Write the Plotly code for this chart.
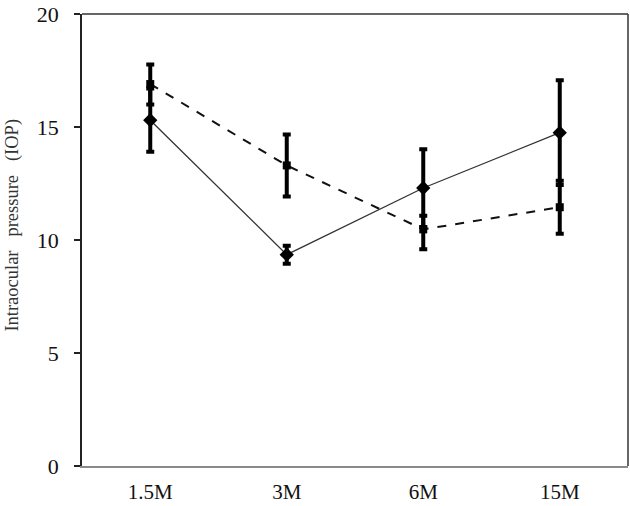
import plotly.graph_objects as go

categories = ["1.5M", "3M", "6M", "15M"]
solid_values = [15.3, 9.35, 12.3, 14.75]
solid_err_plus = [1.4, 0.4, 1.72, 2.32]
solid_err_minus = [1.4, 0.4, 1.72, 2.32]
dashed_values = [16.9, 13.3, 10.47, 11.45]
dashed_err_plus = [0.87, 1.37, 0.6, 1.17]
dashed_err_minus = [0.9, 1.37, 0.88, 1.17]
y_ticks = [0, 5, 10, 15, 20]
y_tick_labels = ["0", "5", "10", "15", "20"]

fig = go.Figure()

fig.add_trace(go.Scatter(
    x=categories, y=dashed_values, mode="lines+markers",
    line=dict(color="#111111", width=2, dash="dash"),
    marker=dict(symbol="square", size=8, color="black"),
    error_y=dict(type="data", symmetric=False, array=dashed_err_plus,
                 arrayminus=dashed_err_minus, color="black", thickness=4, width=4),
    showlegend=False,
))
fig.add_trace(go.Scatter(
    x=categories, y=solid_values, mode="lines+markers",
    line=dict(color="#333333", width=1.3),
    marker=dict(symbol="diamond", size=11, color="black"),
    error_y=dict(type="data", symmetric=False, array=solid_err_plus,
                 arrayminus=solid_err_minus, color="black", thickness=4, width=4),
    showlegend=False,
))

font_family = "Liberation Serif, Times New Roman, serif"

fig.update_layout(
    width=630, height=506,
    margin=dict(l=82, r=2, t=9, b=39),
    paper_bgcolor="white", plot_bgcolor="white",
    font=dict(family=font_family, size=21, color="black"),
    xaxis=dict(
        type="category", range=[-0.5, 3.5],
        showline=True, linecolor="#8a8a8a", linewidth=1.5,
        showgrid=False, zeroline=False, ticks="",
        tickfont=dict(family=font_family, size=21, color="#111111"),
        ticklabelstandoff=6,
    ),
    yaxis=dict(
        range=[0, 20], tickmode="array", tickvals=y_ticks,
        ticktext=[t + "\u00a0\u00a0" for t in y_tick_labels],
        ticklabeloverflow="allow",
        showline=True, linecolor="#222222", linewidth=1.5,
        showgrid=False, zeroline=False,
        ticks="outside", ticklen=6, tickwidth=1.5, tickcolor="#222222",
        tickfont=dict(family=font_family, size=22, color="#111111"),
    ),
    shapes=[
        dict(type="line", xref="paper", yref="paper", x0=0, x1=1, y0=1, y1=1,
             line=dict(color="#333333", width=1.5)),
        dict(type="line", xref="paper", yref="paper", x0=1, x1=1, y0=0, y1=1,
             line=dict(color="#333333", width=1.5)),
    ],
    annotations=[
        dict(text="Intraocular&nbsp;&nbsp;&nbsp;pressure&nbsp;&nbsp;&nbsp;(IOP)",
             xref="paper", yref="paper", x=-0.1264, y=0.534,
             xanchor="center", yanchor="middle", textangle=-90, showarrow=False,
             font=dict(family=font_family, size=18.5, color="#333333")),
    ],
)

fig.write_html("out.html", config={"displayModeBar": False},
               post_script="document.body.style.margin='0';")
